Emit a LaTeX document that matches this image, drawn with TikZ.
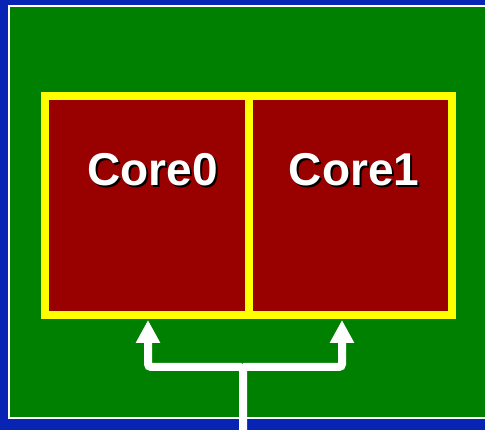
\documentclass[tikz,border=0pt]{standalone}
\usepackage{fontspec}
\setmainfont{Liberation Sans}
\usetikzlibrary{arrows.meta}
\definecolor{slideblue}{RGB}{8,36,180}
\definecolor{boardgreen}{RGB}{0,128,0}
\definecolor{corered}{RGB}{153,0,0}
\definecolor{coreyellow}{RGB}{255,255,0}
% white text with a black drop shadow, set as one box
\newcommand{\dropshadowtext}[1]{%
  \makebox[0pt][l]{\hspace{2pt}\raisebox{-2pt}{\textcolor{black}{#1}}}#1}
\tikzset{
  corebox/.style={draw=coreyellow, line width=8pt, fill=corered},
  corelabel/.style={text=white, font=\bfseries\fontsize{46}{46}\selectfont, inner sep=0pt, anchor=base},
  busline/.style={draw=white, line width=8pt, rounded corners=3pt, -{Triangle[width=23pt,length=23pt]}},
}
\begin{document}
\begin{tikzpicture}[x=1pt,y=-1pt]
  % slide background and board
  \fill[slideblue] (0,0) rectangle (485,430);
  \useasboundingbox (0,0) rectangle (485,430);
  \filldraw[fill=boardgreen, draw=white, line width=2.2pt] (9.2,6.3) rectangle (520,418);

  % the two cores
  \path[corebox] (45,96) rectangle (249,315);
  \path[corebox] (249,96) rectangle (452,315);

  % core labels
  \node[corelabel] (label0) at (152.5,185.5) {\dropshadowtext{Core0}};
  \node[corelabel] (label1) at (354,185.5) {\dropshadowtext{Core1}};

  % shared feed splitting to both cores
  \coordinate (feed) at (243,432);
  \coordinate (split) at (243,367);
  \coordinate (in0) at (148,320);
  \coordinate (in1) at (342,320);
  \draw[busline] (feed) -- (split) -| (in0);
  \draw[busline] (split) -| (in1);
\end{tikzpicture}
\end{document}
